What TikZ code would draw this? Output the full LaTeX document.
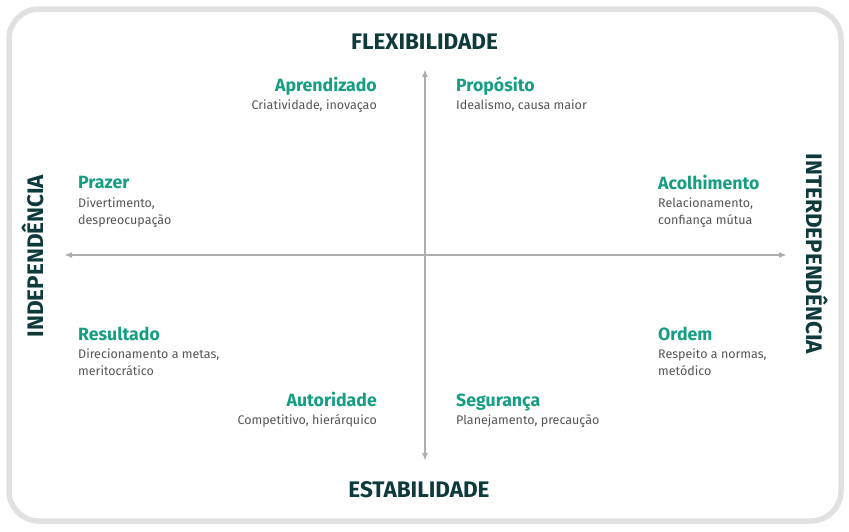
\documentclass[tikz,border=0pt]{standalone}
\usepackage{fontspec}
\setmainfont{Fira Sans}
\usetikzlibrary{arrows.meta}
\definecolor{frame}{HTML}{E3E0E3}
\definecolor{axisgray}{HTML}{ADADB2}
\definecolor{darkteal}{HTML}{0E3A3B}
\definecolor{qgreen}{HTML}{169E83}
\definecolor{descgray}{HTML}{555555}
\tikzset{
  axislabel/.style={font=\bfseries\fontsize{22.5}{26}\selectfont, text=darkteal, inner sep=0pt},
  qtitle/.style={font=\bfseries\fontsize{17.7}{20}\selectfont, text=qgreen, inner sep=0pt},
  qdesc/.style={font=\fontsize{12.5}{17}\selectfont, text=descgray, inner sep=0pt},
  axisline/.style={draw=axisgray, line width=2pt, -{Latex[length=8pt,width=6pt]}}
}
\begin{document}
\begin{tikzpicture}[x=1pt,y=-1pt]
\useasboundingbox (0,0) rectangle (849,531);
\draw[frame, line width=5.5pt, rounded corners=30pt] (9,9) rectangle (841,521);
% axes
\coordinate (c) at (425,255);
\coordinate (top) at (425,69);
\coordinate (bot) at (425,461);
\coordinate (lft) at (64,255);
\coordinate (rgt) at (787,255);
\draw[axisline] (c) -- (top);
\draw[axisline] (c) -- (bot);
\draw[axisline] (c) -- (lft);
\draw[axisline] (c) -- (rgt);
% axis labels
\node[axislabel, anchor=base] (flex) at (424.5,49) {FLEXIBILIDADE};
\node[axislabel, anchor=base] (estab) at (419,497) {ESTABILIDADE};
\node[axislabel, anchor=base, rotate=90] (indep) at (43,256) {INDEPENDÊNCIA};
\node[axislabel, anchor=base, rotate=-90] (inter) at (806,254) {INTERDEPENDÊNCIA};
% quadrant items
\node[qtitle, anchor=base east] (apr) at (377,91) {Aprendizado};
\node[qdesc, anchor=base east] (aprd) at (377,109) {Criatividade, inovaçao};
\node[qtitle, anchor=base west] (prop) at (456,91) {Propósito};
\node[qdesc, anchor=base west] (propd) at (456,109) {Idealismo, causa maior};
\node[qtitle, anchor=base west] (praz) at (78,188) {Prazer};
\node[qdesc, anchor=base west, align=left] (prazd) at (78,224) {Divertimento,\\despreocupação};
\node[qtitle, anchor=base west] (acol) at (658,189) {Acolhimento};
\node[qdesc, anchor=base west, align=left] (acold) at (658,224) {Relacionamento,\\confiança mútua};
\node[qtitle, anchor=base west] (res) at (78,340) {Resultado};
\node[qdesc, anchor=base west, align=left] (resd) at (78,375) {Direcionamento a metas,\\meritocrático};
\node[qtitle, anchor=base west] (ord) at (658,340) {Ordem};
\node[qdesc, anchor=base west, align=left] (ordd) at (658,375) {Respeito a normas,\\metódico};
\node[qtitle, anchor=base east] (aut) at (377,406) {Autoridade};
\node[qdesc, anchor=base east] (autd) at (377,424) {Competitivo, hierárquico};
\node[qtitle, anchor=base west] (seg) at (456,406) {Segurança};
\node[qdesc, anchor=base west] (segd) at (456,424) {Planejamento, precaução};
\end{tikzpicture}
\end{document}
